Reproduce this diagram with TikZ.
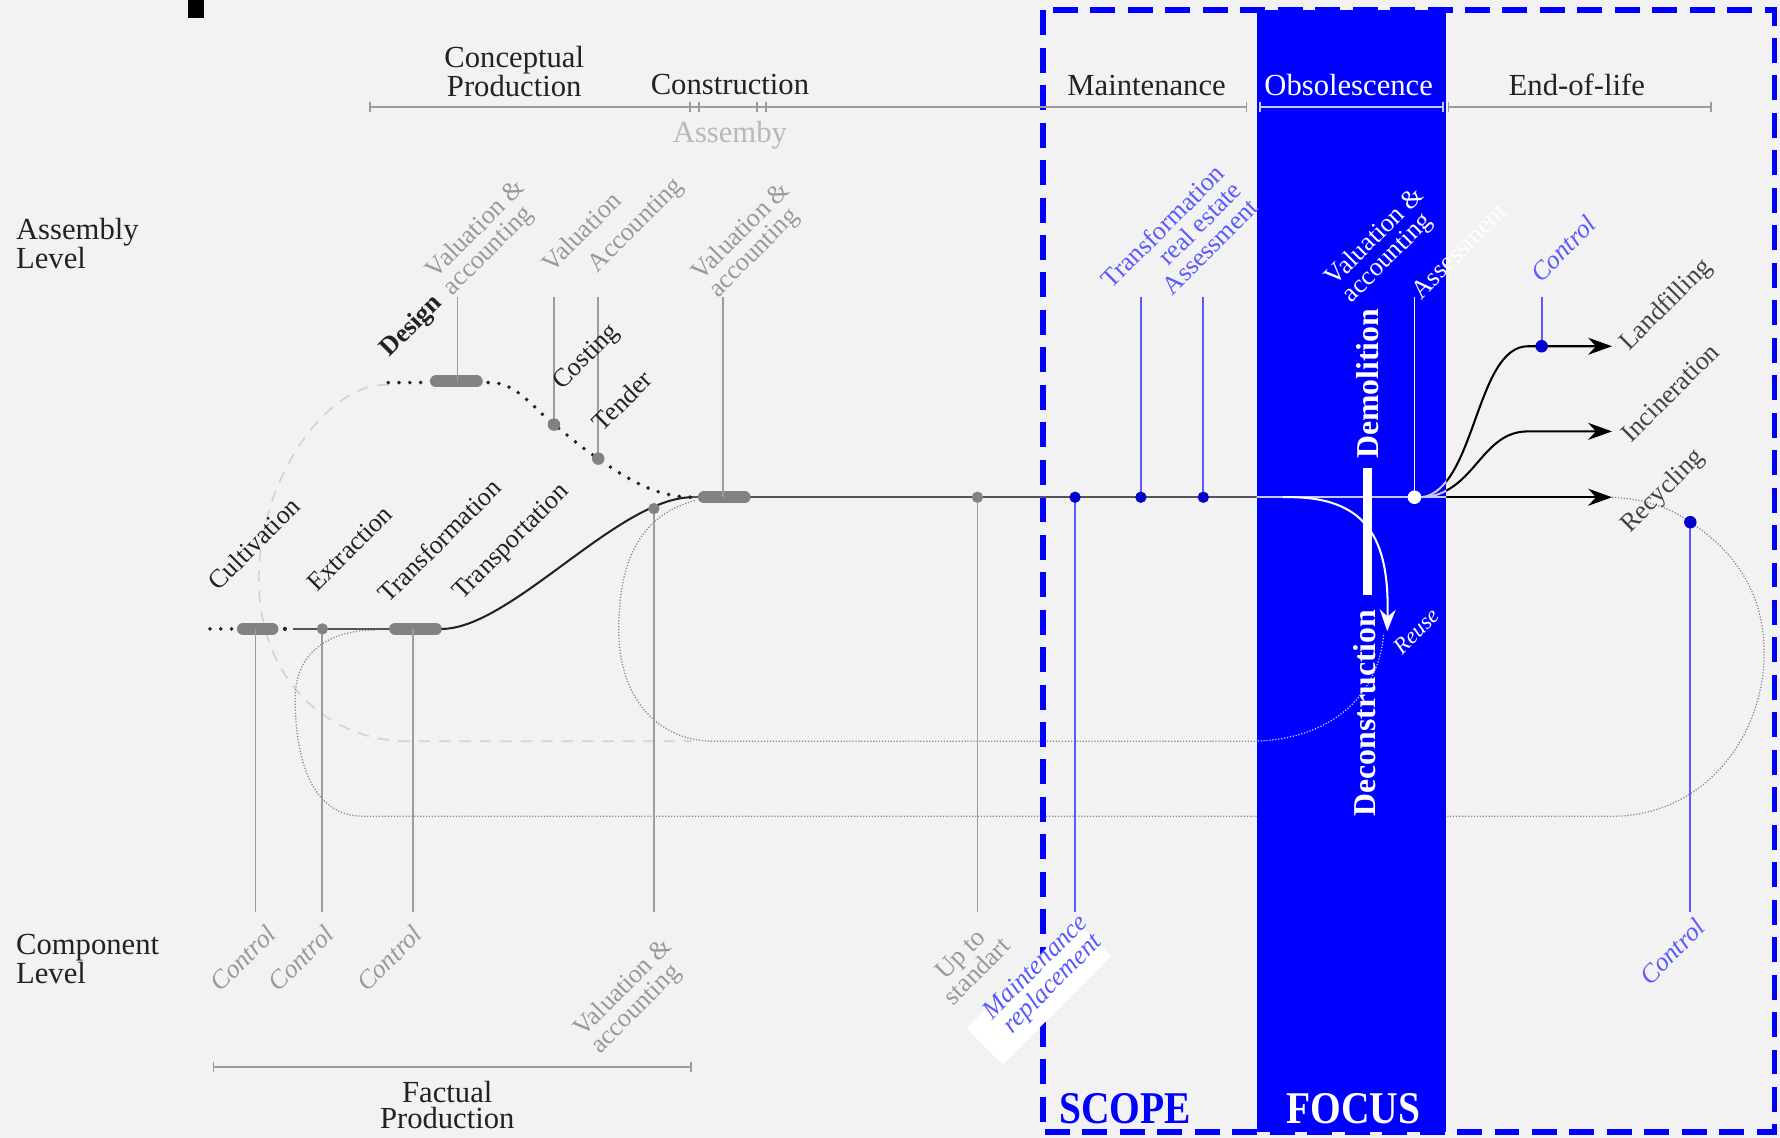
\documentclass[tikz,border=0pt]{standalone}
\usepackage{fontspec}
\setmainfont{Liberation Serif}
\newfontfamily\capfont[FakeStretch=0.87]{Liberation Serif}
\usetikzlibrary{arrows.meta}
\definecolor{bgc}{HTML}{F2F2F2}
\definecolor{gline}{HTML}{9C9C9C}
\definecolor{gtext}{HTML}{999999}
\definecolor{ltext}{HTML}{B8B8B8}
\definecolor{barc}{HTML}{828282}
\definecolor{dk}{HTML}{222222}
\definecolor{dline}{HTML}{555555}
\definecolor{pblue}{HTML}{0000FF}
\definecolor{lblue}{HTML}{5A5AFF}
\definecolor{dblue}{HTML}{0000CC}
\definecolor{lgray}{HTML}{D4D4D4}
\definecolor{fgray}{HTML}{8A8A8A}
\definecolor{inblue}{HTML}{C8C8FF}
\newcommand\hdrfont{\fontsize{27}{23.5}\selectfont}
\newcommand\lblfont{\fontsize{23}{21}\selectfont}
\begin{document}
\begin{tikzpicture}[x=1pt,y=-1pt,
  gl/.style={draw=gline, line width=1.6pt},
  bl/.style={draw=lblue, line width=1.6pt},
  wl/.style={draw=white, line width=1.6pt},
  barst/.style={draw=barc, line width=10.5pt, line cap=round},
  bdots/.style={draw=dk, line width=3.5pt, line cap=round, dash pattern=on 0pt off 9.5pt},
  fdots/.style={draw=fgray, line width=1.1pt, dash pattern=on 1.1pt off 1.5pt},
  ldash/.style={draw=lgray, line width=1.5pt, dash pattern=on 10pt off 8pt},
  hdr/.style={font=\hdrfont, inner sep=0pt, align=center},
  lbl/.style={font=\lblfont, rotate=45, inner sep=0pt},
  glbl/.style={lbl, text=gtext},
  gilbl/.style={lbl, text=gtext, font=\lblfont\itshape},
  klbl/.style={lbl, text=dk},
  blbl/.style={lbl, text=lblue},
  bilbl/.style={lbl, text=lblue, font=\lblfont\itshape},
  wlbl/.style={lbl, text=white},
  arr/.style={-{Stealth[length=21pt,width=15pt]}},
  gdot/.style={fill=barc},
  bdot/.style={fill=dblue}
]
\useasboundingbox (0,0) rectangle (1568,1002.4);
\fill[bgc] (0,0) rectangle (1568,1002.4);
\fill[black] (166,0) rectangle (179.5,16);

% ---------- loops (behind) ----------
\draw[ldash] (342,339) .. controls (290,336) and (228,420) .. (228,510)
   .. controls (228,600) and (290,653) .. (360,653) -- (610,653);
\draw[fdots] (612,441) .. controls (560,455) and (545,500) .. (545,555)
   .. controls (545,610) and (575,653) .. (630,653) -- (1107,653)
   .. controls (1170,653) and (1214,615) .. (1219,558);
\draw[fdots] (1420,438) .. controls (1455,440) and (1475,450) .. (1489,460)
   .. controls (1535,490) and (1554,530) .. (1554,575)
   .. controls (1554,650) and (1500,719) .. (1420,719) -- (320,719)
   .. controls (275,719) and (260,670) .. (260,615)
   .. controls (260,575) and (290,555) .. (330,555);

% ---------- focus and scope ----------
\fill[pblue] (1107,9) rectangle (1274,997);
\draw[pblue, line width=5pt, dash pattern=on 22pt off 11pt] (918.5,9) rectangle (1563,997);

% ---------- top timeline ----------
\coordinate (tlA) at (326,94);  \coordinate (tlB) at (1098,94);
\coordinate (tlC) at (1110,94); \coordinate (tlD) at (1271,94);
\coordinate (tlE) at (1276,94); \coordinate (tlF) at (1507,94);
\draw[gl] (tlA) -- (tlB);
\draw[draw=inblue, line width=1.6pt] (tlC) -- (tlD);
\draw[gl] (tlE) -- (tlF);
\foreach \x in {326,608,616,667,675,1098,1276,1507} \draw[gl] (\x,89.5) -- (\x,98.5);
\foreach \x in {1110,1271} \draw[draw=inblue, line width=1.6pt] (\x,89.5) -- (\x,98.5);

% bottom timeline
\coordinate (fbA) at (188,940); \coordinate (fbB) at (609,940);
\draw[gl] (fbA) -- (fbB);
\foreach \x in {188,609} \draw[gl] (\x,935.5) -- (\x,944.5);

% ---------- headers ----------
\node[hdr, text=dk] (hcp) at (453,63) {Conceptual\\Production};
\node[hdr, text=dk] (hcon) at (643,74.5) {Construction};
\node[hdr, text=ltext] (hasm) at (643,119.5) {Assemby};
\node[hdr, text=dk] (hmain) at (1010,75) {Maintenance};
\node[hdr, text=white] (hobs) at (1188,75) {Obsolescence};
\node[hdr, text=dk] (heol) at (1389,75) {End-of-life};
\node[hdr, text=dk, anchor=west, align=left] (hal) at (14,214.5) {Assembly\\Level};
\node[hdr, text=dk, anchor=west, align=left] (hcl) at (14,845) {Component\\Level};
\node[hdr, text=dk] (hfp) at (394,973.5) {Factual\\Production};
\node[inner sep=0pt, text=pblue, font=\capfont\bfseries\fontsize{40}{40}\selectfont] (scope) at (991,977) {SCOPE};
\node[inner sep=0pt, text=white, font=\capfont\bfseries\fontsize{40}{40}\selectfont] (focus) at (1192,977) {FOCUS};

% ---------- key points ----------
\coordinate (cst) at (185,554);
\coordinate (cb1) at (214,554); \coordinate (cb2) at (240,554);
\coordinate (ex0) at (258,554);
\coordinate (ext) at (284,554);
\coordinate (tb1) at (348,554); \coordinate (tb2) at (384,554);
\coordinate (tbe) at (389,554);
\coordinate (vac) at (576,448);
\coordinate (mrg) at (610,438);
\coordinate (ab1) at (620,438); \coordinate (ab2) at (656,438);
\coordinate (ust) at (861,438);
\coordinate (mre) at (947,438);
\coordinate (tre) at (1005,438);
\coordinate (ass) at (1060,438);
\coordinate (bin) at (1107,438);
\coordinate (wdt) at (1246,438);
\coordinate (rcy) at (1420,438);
\coordinate (lfc) at (1358,305);
\coordinate (lfa) at (1420,305);
\coordinate (ina) at (1420,380);
\coordinate (ds0) at (342,337); \coordinate (ds1) at (372,337);
\coordinate (db1) at (384,336); \coordinate (db2) at (420,336);
\coordinate (dsa) at (430,337);
\coordinate (cos) at (488,374);
\coordinate (ten) at (527,404);
\coordinate (rcd) at (1489,460);
\coordinate (reu) at (1222,556);

% ---------- flows ----------
\draw[bdots] (cst) -- (206,554);
\draw[barst] (cb1) -- (cb2);
\fill[dk] (251,554) circle (1.8);
\draw[draw=dline, line width=1.8pt] (ex0) -- (tb1);
\draw[barst] (tb1) -- (tb2);
\draw[draw=dk, line width=1.8pt] (tbe) .. controls (450,554) and (545,438) .. (mrg);
\draw[bdots] (ds0) -- (ds1);
\draw[barst] (db1) -- (db2);
\draw[bdots] (dsa) .. controls (455,336) and (470,360) .. (cos)
   .. controls (502,385) and (512,394) .. (ten)
   .. controls (555,424) and (580,438) .. (mrg);
\draw[draw=dline, line width=2pt] (mrg) -- (bin);
\draw[draw=black, line width=2pt, arr] (bin) -- (rcy);
\draw[draw=black, line width=1.8pt, arr] (1253,438) .. controls (1300,430) and (1300,305) .. (1346,305) -- (lfa);
\draw[draw=black, line width=1.8pt, arr] (1256,438) .. controls (1300,432) and (1305,380) .. (1346,380) -- (ina);
\draw[barst] (ab1) -- (ab2);

% overlay inside the focus band
\begin{scope}
\clip (1107,9) rectangle (1274,997);
\draw[draw=inblue, line width=2pt] (1100,438) -- (1280,438);
\draw[draw=inblue, line width=1.8pt] (1253,438) .. controls (1300,430) and (1300,305) .. (1346,305);
\draw[draw=inblue, line width=1.8pt] (1256,438) .. controls (1300,432) and (1305,380) .. (1346,380);
\draw[draw=inblue, line width=1.1pt, dash pattern=on 1.1pt off 1.5pt] (1100,653)
   .. controls (1170,653) and (1214,615) .. (1219,558);
\end{scope}
\draw[draw=white, line width=1.8pt, -{Stealth[length=19pt,width=14pt]}] (1130,438) .. controls (1205,436) and (1224,475) .. (reu);
\fill[white] (1201,412) rectangle (1209,524);

% ---------- verticals ----------
\draw[gl] (403,262) -- (403,336);
\draw[gl] (488,262) -- (cos);
\draw[gl] (527,262) -- (ten);
\draw[gl] (637,262) -- (637,438);
\draw[bl] (1005,262) -- (tre);
\draw[bl] (1060,262) -- (ass);
\draw[wl] (1246,262) -- (wdt);
\draw[bl] (1358,262) -- (lfc);
\draw[gl] (225,554) -- (225,803);
\draw[gl] (ext) -- (284,803);
\draw[gl] (364,554) -- (364,803);
\draw[gl] (vac) -- (576,803);
\draw[gl] (ust) -- (861,803);
\draw[bl] (mre) -- (947,803);
\draw[bl] (rcd) -- (1489,803);

% ---------- dots ----------
\fill[gdot] (ext) circle (5);
\fill[gdot] (cos) circle (5.5);
\fill[gdot] (ten) circle (5.5);
\fill[gdot] (vac) circle (5);
\fill[gdot] (ust) circle (5);
\fill[bdot] (mre) circle (5);
\fill[bdot] (tre) circle (5);
\fill[bdot] (ass) circle (5);
\fill[bdot] (lfc) circle (5.5);
\fill[bdot] (rcd) circle (5.5);
\fill[white] (wdt) circle (6);

% ---------- rotated labels ----------
\node[glbl, align=left] (la1) at (427,210) {Valuation \&\\accounting};
\node[glbl] (la2) at (512,204) {Valuation};
\node[glbl] (la3) at (561,199) {Accounting};
\node[glbl, align=left] (la4) at (661,212) {Valuation \&\\accounting};
\node[klbl, font=\lblfont\bfseries] (ldes) at (363,288) {Design};
\node[klbl] (lcos) at (517,315) {Costing};
\node[klbl] (lten) at (548,353) {Tender};
\node[klbl] (lcul) at (223.5,479) {Cultivation};
\node[klbl] (lext) at (308,483) {Extraction};
\node[klbl] (ltrf) at (387,476) {Transformation};
\node[klbl] (ltrp) at (451,478) {Transportation};
\node[blbl, align=right] (ltre) at (1039,214) {Transformation\\real estate\\Assessment};
\node[wlbl, align=left] (lval) at (1219,216.5) {Valuation \&\\accounting};
\node[wlbl] (lass) at (1285,221) {Assessment};
\node[bilbl] (lco1) at (1377,219) {Control};
\node[klbl, text=dk!85] (llf) at (1468,269) {Landfilling};
\node[klbl, text=dk!85] (linc) at (1471,346) {Incineration};
\node[klbl, text=dk!85] (lrec) at (1465,433) {Recycling};
\node[wlbl, font=\fontsize{20}{20}\selectfont\itshape] (lreu) at (1248,556) {Reuse};
\node[gilbl] (lb1) at (214,844) {Control};
\node[gilbl] (lb2) at (265,844) {Control};
\node[gilbl] (lb3) at (343,844) {Control};
\node[glbl, align=left] (lb4) at (557,878) {Valuation \&\\accounting};
\node[glbl, align=center] (lb5) at (853,848) {Up to\\standart};
\node[fill=white, minimum width=135pt, minimum height=45pt, rotate=45, inner sep=0pt] (wbox) at (915,874) {};
\node[bilbl, align=center] (lb6) at (920.5,860) {Maintenance\\replacement};
\node[bilbl] (lb7) at (1473,838) {Control};

% demolition / deconstruction
\node[rotate=90, inner sep=0pt, text=white, font=\fontsize{28}{28}\selectfont\bfseries] (ldem) at (1205,338) {Demolition};
\node[rotate=90, inner sep=0pt, text=white, font=\fontsize{28}{28}\selectfont\bfseries] (ldec) at (1202,628) {Deconstruction};
\end{tikzpicture}
\end{document}
